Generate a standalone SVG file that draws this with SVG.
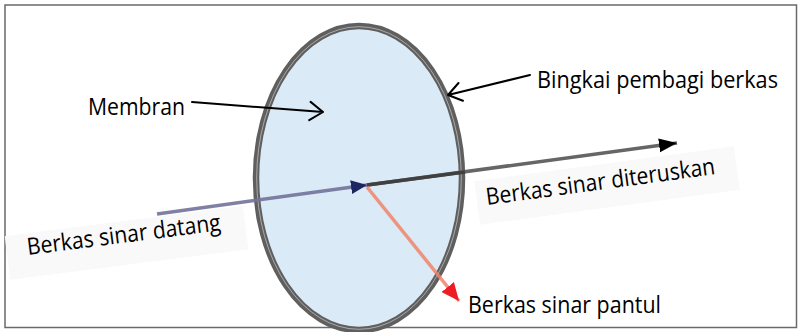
<svg xmlns="http://www.w3.org/2000/svg" width="798" height="332" viewBox="0 0 798 332">
<style>
.lbl{font-family:"Open Sans","Liberation Sans",sans-serif;font-size:23.5px;fill:#000000;}
.pointer{fill:none;stroke:#000000;stroke-width:2;stroke-linecap:round;stroke-linejoin:round;}
.band{fill:#f9f9f9;}
</style>
<defs>
<marker id="mNavy" markerUnits="userSpaceOnUse" markerWidth="18" markerHeight="16" refX="16" refY="7" orient="auto" viewBox="0 0 18 14">
<path d="M0,0 L16,7 L0,14 Z" fill="#1c2660"/>
</marker>
<marker id="mBlack" markerUnits="userSpaceOnUse" markerWidth="20" markerHeight="16" refX="18" refY="7" orient="auto" viewBox="0 0 20 14">
<path d="M0,0 L18,7 L0,14 Z" fill="#000000"/>
</marker>
<marker id="mRed" markerUnits="userSpaceOnUse" markerWidth="20" markerHeight="18" refX="18" refY="8" orient="auto" viewBox="0 0 20 16">
<path d="M0,0 L18,8 L0,16 Z" fill="#ee1c24"/>
</marker>
</defs>
<rect x="0" y="0" width="798" height="332" fill="#ffffff"/>
<rect x="5" y="5" width="791.5" height="322.5" fill="none" stroke="#6a6a6a" stroke-width="1.5"/>
<g id="bands">
<rect class="band" x="0" y="-26" width="240" height="44" transform="translate(8,262) rotate(-7.3)"/>
<rect class="band" x="0" y="-28" width="262" height="44" transform="translate(478,209) rotate(-7.7)"/>
</g>
<g id="frame">
<ellipse cx="359" cy="178" rx="103" ry="152" fill="#dbeaf7" stroke="#5f5f5f" stroke-width="6.5"/>
<ellipse cx="359" cy="178" rx="102.3" ry="151.3" fill="none" stroke="#c9c9c9" stroke-width="0.7"/>
</g>
<g id="connectors">
<line x1="157" y1="214" x2="367" y2="185" stroke="#72729a" stroke-width="3.5" stroke-opacity="0.9" marker-end="url(#mNavy)"/>
<line x1="367" y1="185" x2="677" y2="143" stroke="#666666" stroke-width="3.5" marker-end="url(#mBlack)"/>
<line x1="367" y1="185" x2="465" y2="172" stroke="#404040" stroke-width="3.5"/>
<line x1="367" y1="187" x2="459" y2="301" stroke="#f08468" stroke-width="3.5" stroke-opacity="0.85" marker-end="url(#mRed)"/>
<path class="pointer" d="M192,102 L323,112 M310.6,101.9 L323,112 L309.2,120.2"/>
<path class="pointer" d="M530,75 L448,95 M462.9,100.8 L448,95 L458.5,83"/>
</g>
<g id="membran">
<text class="lbl" x="88" y="115" textLength="97" lengthAdjust="spacingAndGlyphs">Membran</text>
</g>
<g id="bingkai">
<text class="lbl" x="537" y="88" textLength="241" lengthAdjust="spacingAndGlyphs">Bingkai pembagi berkas</text>
</g>
<g id="datang">
<text class="lbl" transform="translate(28,255) rotate(-7.3)" x="0" y="0" textLength="195" lengthAdjust="spacingAndGlyphs">Berkas sinar datang</text>
</g>
<g id="diteruskan">
<text class="lbl" transform="translate(487,205) rotate(-7.7)" x="0" y="0" textLength="231" lengthAdjust="spacingAndGlyphs">Berkas sinar diteruskan</text>
</g>
<g id="pantul">
<text class="lbl" x="468" y="313" textLength="193" lengthAdjust="spacingAndGlyphs">Berkas sinar pantul</text>
</g>
</svg>
